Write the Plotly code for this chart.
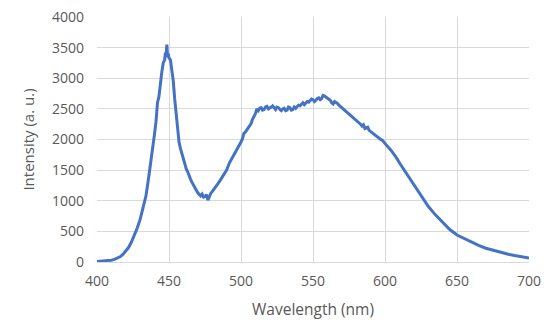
import plotly.graph_objects as go

# Blue peak region (400-499 nm)
wl_blue = [400, 402, 404, 406, 408, 410, 412, 414, 416, 418, 420, 422, 424, 426, 428, 430,
           432, 434, 436, 437, 438, 439, 440, 441, 442, 443, 444, 445, 446, 447, 447.5, 448,
           448.5, 449, 449.5, 450, 451, 452, 453, 454, 455, 456, 457, 458, 459, 460, 461,
           462, 463, 464, 465, 466, 467, 468, 469, 470, 471, 472, 473, 474, 475, 476, 477,
           478, 479, 480, 482, 484, 486, 488, 490, 492, 494, 496, 498]
int_blue = [8, 10, 14, 18, 22, 30, 42, 60, 85, 125, 175, 240, 330, 440, 560, 700,
            880, 1080, 1400, 1560, 1700, 1900, 2100, 2300, 2600, 2700, 2950, 3100, 3250, 3300, 3420, 3380,
            3550, 3350, 3400, 3330, 3300, 3150, 2950, 2650, 2400, 2200, 1950, 1850, 1760, 1680, 1600,
            1520, 1470, 1400, 1350, 1300, 1250, 1200, 1170, 1130, 1100, 1080, 1110, 1060, 1070, 1100, 1010,
            1080, 1120, 1150, 1210, 1280, 1350, 1430, 1500, 1620, 1700, 1790, 1870]

# Phosphor band (500-600 nm, 1 nm steps)
wl_band = list(range(500, 601))
int_band = [1960, 2010, 2100, 2120, 2160, 2180, 2220, 2260, 2330, 2370,
            2420, 2500, 2470, 2510, 2520, 2480, 2490, 2530, 2540, 2500,
            2510, 2530, 2550, 2510, 2490, 2530, 2520, 2490, 2470, 2500,
            2510, 2470, 2480, 2530, 2520, 2480, 2490, 2530, 2510, 2540,
            2560, 2550, 2580, 2600, 2570, 2600, 2620, 2610, 2630, 2660,
            2650, 2620, 2640, 2670, 2680, 2650, 2670, 2720, 2710, 2690,
            2680, 2660, 2640, 2600, 2580, 2620, 2610, 2590, 2560, 2540,
            2510, 2500, 2470, 2460, 2440, 2420, 2400, 2380, 2350, 2340,
            2320, 2300, 2280, 2250, 2220, 2240, 2180, 2190, 2200, 2150,
            2130, 2120, 2100, 2080, 2060, 2040, 2010, 2000, 1990, 1960,
            1940]

# Red tail (602-700 nm)
wl_tail = [602, 604, 606, 608, 610, 612, 614, 616, 618, 620, 622, 624, 626, 628, 630, 635,
           640, 645, 650, 655, 660, 665, 670, 675, 680, 685, 690, 695, 700]
int_tail = [1880, 1830, 1770, 1700, 1620, 1550, 1480, 1410, 1340, 1270, 1210, 1130, 1050, 980, 910, 770,
            650, 530, 440, 380, 320, 270, 225, 190, 160, 130, 105, 85, 65]

x_ticks = [400, 450, 500, 550, 600, 650, 700]
y_ticks = [0, 500, 1000, 1500, 2000, 2500, 3000, 3500, 4000]

wavelength = wl_blue + wl_band + wl_tail
intensity = int_blue + int_band + int_tail

fig = go.Figure(go.Scatter(
    x=wavelength, y=intensity, mode="lines",
    line=dict(color="#4472C4", width=3),
    showlegend=False,
))

font_family = "Open Sans, Liberation Sans, sans-serif"
tick_font = dict(family=font_family, size=14, color="#595959")

fig.update_layout(
    width=550, height=331,
    margin=dict(l=97, r=21, t=17, b=69, autoexpand=False),
    paper_bgcolor="white", plot_bgcolor="white",
    xaxis=dict(
        range=[400, 700], tickvals=x_ticks, ticktext=[str(v) for v in x_ticks],
        showgrid=True, gridcolor="#d9d9d9", gridwidth=1,
        showline=True, linecolor="#d9d9d9", linewidth=1,
        zeroline=False, ticks="", tickfont=tick_font, ticklabelstandoff=6,
        automargin=False,
        title=dict(text="Wavelength (nm)", font=dict(family=font_family, size=15.5, color="#595959"), standoff=15),
    ),
    yaxis=dict(
        range=[0, 4000], tickvals=y_ticks, ticktext=[str(v) for v in y_ticks],
        showgrid=True, gridcolor="#d9d9d9", gridwidth=1,
        zeroline=False, ticks="", tickfont=tick_font, ticklabelstandoff=12,
        automargin=False,
        title=dict(text="Intensity (a. u.)", font=dict(family=font_family, size=15, color="#595959"), standoff=13),
    ),
)

fig.write_html("out.html", config={"displayModeBar": False},
               post_script="document.body.style.margin='0';document.body.style.padding='0';")
